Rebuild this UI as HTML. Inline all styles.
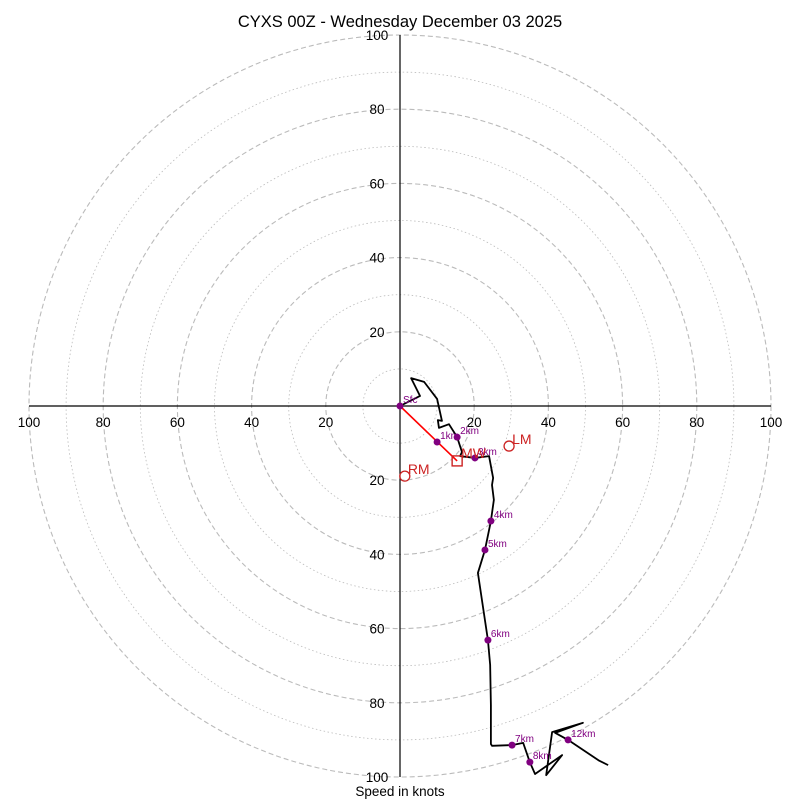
<!DOCTYPE html>
<html><head><meta charset="utf-8"><style>body{margin:0;background:#fff}svg{display:block;font-family:"Liberation Sans",sans-serif}</style></head>
<body>
<svg id="c" width="800" height="800"></svg>
<script>
const rings=[10,20,30,40,50,60,70,80,90,100];
const tickLabels=[20,40,60,80,100];
const pathU=[0,5.4,3.0,6.5,10.0,11.3,10.2,10.5,13.2,15.4,16.7,16.2,20.2,24.0,25.1,24.8,25.3,24.5,22.9,21.0,23.7,24.3,24.5,24.5,24.8,30.2,33.2,35.0,36.4,43.7,39.4,41.0,49.3,41.8,45.3,53.5,56.1];
const pathV=[0,2.7,7.5,6.5,1.9,-4.0,-3.8,-5.9,-4.9,-8.4,-12.4,-13.5,-14.0,-13.5,-19.4,-21.3,-25.3,-31.0,-38.8,-45.0,-63.1,-69.8,-80.6,-91.1,-91.6,-91.4,-90.8,-96.0,-99.2,-94.1,-99.5,-87.9,-85.4,-88.1,-90.0,-95.5,-96.8];
const markNames=["Sfc","1km","2km","3km","4km","5km","6km","7km","8km","12km"];
const markU=[0,10.0,15.4,20.2,24.5,22.9,23.7,30.2,35.0,45.3];
const markV=[0,-9.7,-8.4,-14.0,-31.0,-38.8,-63.1,-91.4,-96.0,-90.0];
const mw=[15.4,-14.8], lm=[29.4,-10.8], rm=[1.3,-18.9];
const cx=400,cy=406,k=3.71;
const X=u=>cx+u*k, Y=v=>cy-v*k;
const svg=document.getElementById('c'),NS='http://www.w3.org/2000/svg';
function add(tag,at,txt){const e=document.createElementNS(NS,tag);for(const a in at)e.setAttribute(a,at[a]);if(txt!=null)e.textContent=txt;svg.appendChild(e);return e;}
let t=add('text',{x:400,y:27,'font-size':16.5,'text-anchor':'middle'},'CYXS 00Z - Wednesday December 03 2025');

rings.forEach(r=>{const e=add('circle',{cx:cx,cy:cy,r:r*k,fill:'none',stroke:'#bbb','stroke-width':r%20?0.8:1.1,'stroke-dasharray':r%20?'1.5,2.5':'5,3'});
});
let a1=add('line',{x1:X(-100),y1:cy,x2:X(100),y2:cy,stroke:'#000','stroke-width':1.2});

let a2=add('line',{x1:cx,y1:Y(100),x2:cx,y2:Y(-100),stroke:'#000','stroke-width':1.2});

tickLabels.forEach(v=>{[-1,1].forEach(s=>{
 let e=add('text',{x:X(s*v),y:cy+21,'font-size':13.5,'text-anchor':'middle'},v);
 
 e=add('text',{x:377,y:Y(s*v)+5,'font-size':13.5,'text-anchor':'middle'},v);
 });});
let xl=add('text',{x:400,y:796,'font-size':13.5,'text-anchor':'middle'},'Speed in knots');

let pl=add('polyline',{points:pathU.map((u,i)=>X(u)+','+Y(pathV[i])).join(' '),fill:'none',stroke:'#000','stroke-width':1.8,'stroke-linejoin':'round'});

let sm=add('line',{x1:X(0),y1:Y(0),x2:X(mw[0]),y2:Y(mw[1]),stroke:'red','stroke-width':1.6});

markNames.forEach((n,i)=>{let c=add('circle',{cx:X(markU[i]),cy:Y(markV[i]),r:3.5,fill:'purple'});
 
 let l=add('text',{x:X(markU[i])+3,y:Y(markV[i])-3,'font-size':10,fill:'purple'},n);
 });
let sq=add('rect',{x:X(mw[0])-5,y:Y(mw[1])-5,width:10,height:10,fill:'none',stroke:'#c22','stroke-width':1.4});

let mt=add('text',{x:X(mw[0])+4,y:Y(mw[1])-3,'font-size':14,fill:'#c22'},'MW');

[[lm,'LM','left-mover'],[rm,'RM','right-mover']].forEach(([p,n,d])=>{
 let c=add('circle',{cx:X(p[0]),cy:Y(p[1]),r:5,fill:'none',stroke:'#c22','stroke-width':1.3});
 
 let l=add('text',{x:X(p[0])+3,y:Y(p[1])-2,'font-size':14,fill:'#c22'},n);
 });
</script>
</body></html>
